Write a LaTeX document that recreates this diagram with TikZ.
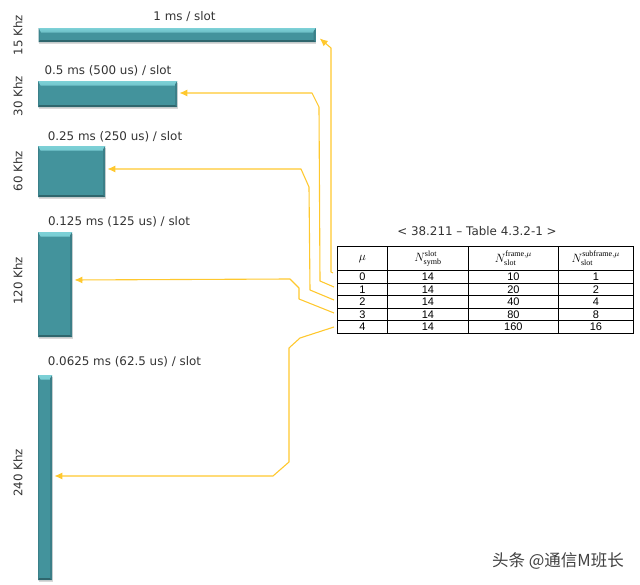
\documentclass[tikz,border=0pt]{standalone}
\usepackage{amsmath}
\usepackage{fontspec}
\setmainfont{DejaVu Sans}
\setmathrm{Liberation Serif}
\newfontfamily\cellfont{Liberation Sans}
\newfontfamily\cjkfont{Noto Sans CJK SC}
\usetikzlibrary{positioning,shadows,arrows.meta}
\definecolor{barfill}{HTML}{43939C}
\definecolor{bartop}{HTML}{7CD0D6}
\definecolor{barside}{HTML}{3B7F88}
\definecolor{barlow}{HTML}{2F666D}
\definecolor{wirecol}{HTML}{FFC82E}
\tikzset{
  slotbar/.style={rectangle,inner sep=0pt,anchor=north west,fill=barfill,
    drop shadow={shadow xshift=0.5pt,shadow yshift=-1.5pt,opacity=.3},
    path picture={
      \shade[top color=bartop,bottom color=barfill] (path picture bounding box.north west) -- (path picture bounding box.north east)
        -- ([shift={(-2.5pt,-4.5pt)}]path picture bounding box.north east)
        -- ([shift={(2.5pt,-4.5pt)}]path picture bounding box.north west) -- cycle;
      \fill[barside] (path picture bounding box.north east) -- (path picture bounding box.south east)
        -- ([shift={(-2pt,2pt)}]path picture bounding box.south east)
        -- ([shift={(-2pt,-3pt)}]path picture bounding box.north east) -- cycle;
      \fill[barside] (path picture bounding box.north west) -- (path picture bounding box.south west)
        -- ([shift={(1pt,2pt)}]path picture bounding box.south west)
        -- ([shift={(1pt,-3pt)}]path picture bounding box.north west) -- cycle;
      \fill[barlow] (path picture bounding box.south west) -- (path picture bounding box.south east)
        -- ([shift={(-2pt,2pt)}]path picture bounding box.south east)
        -- ([shift={(1pt,2pt)}]path picture bounding box.south west) -- cycle;
    }},
  slotlabel/.style={font=\fontsize{11.9}{13}\selectfont,text=black!80,inner sep=0pt},
  khzlabel/.style={font=\fontsize{11.8}{13}\selectfont,text=black!80,inner sep=0pt,rotate=90},
  cell/.style={rectangle,draw=black,line width=.8pt,inner sep=0pt,anchor=north west,
    font=\cellfont\fontsize{11}{10}\selectfont},
  headcell/.style={cell,minimum height=24.5pt,font=\fontsize{12}{12}\selectfont},
  wire/.style={-{Latex[length=8pt,width=7pt]},draw=wirecol,line width=1.1pt,shorten >=2pt,line join=round}
}
\begin{document}
\begin{tikzpicture}[x=1pt,y=-1pt]
  \useasboundingbox (0,0) rectangle (640,585);
  % slot bars
  \node[slotbar,minimum width=277pt,minimum height=14pt] (bar15) at (38.5,28) {};
  \node[slotbar,minimum width=139pt,minimum height=26pt] (bar30) at (38,81) {};
  \node[slotbar,minimum width=67pt,minimum height=51pt] (bar60) at (38,146) {};
  \node[slotbar,minimum width=34pt,minimum height=105pt] (bar120) at (38,232) {};
  \node[slotbar,minimum width=14pt,minimum height=205pt] (bar240) at (38,375) {};
  % spacing labels
  \node[khzlabel] (khz15) at (18,35) {15 Khz};
  \node[khzlabel] (khz30) at (18,96) {30 Khz};
  \node[khzlabel] (khz60) at (18,171) {60 Khz};
  \node[khzlabel] (khz120) at (18,281) {120 Khz};
  \node[khzlabel] (khz240) at (18,473) {240 Khz};
  % durations
  \node[slotlabel] (dur15) at (184.5,17) {1 ms / slot};
  \node[slotlabel] (dur30) at (108,70.5) {0.5 ms (500 us) / slot};
  \node[slotlabel] (dur60) at (115,136.5) {0.25 ms (250 us) / slot};
  \node[slotlabel] (dur120) at (119,221.5) {0.125 ms (125 us) / slot};
  \node[slotlabel] (dur240) at (124.5,361.5) {0.0625 ms (62.5 us) / slot};
  % table
  \node[slotlabel] (caption) at (477,231) {< 38.211 – Table 4.3.2-1 >};
  \node[headcell,minimum width=50pt] (hmu) at (337,246) {$\mu$};
  \node[headcell,minimum width=81pt] (hsymb) at (387,246) {$N^{\mathrm{slot}}_{\mathrm{symb}}$};
  \node[headcell,minimum width=90pt] (hframe) at (468,246) {$N^{\mathrm{frame},\mu}_{\mathrm{slot}}$};
  \node[headcell,minimum width=75pt] (hsub) at (558,246) {$N^{\mathrm{subframe},\mu}_{\mathrm{slot}}$};
  \foreach \r/\fr/\sub in {0/10/1,1/20/2,2/40/4,3/80/8,4/160/16} {
    \pgfmathsetmacro{\ytop}{270.5+12.5*\r}
    \node[cell,minimum width=50pt,minimum height=12.5pt] (mu\r) at (337,\ytop) {\r};
    \node[cell,minimum width=81pt,minimum height=12.5pt] (symb\r) at (387,\ytop) {14};
    \node[cell,minimum width=90pt,minimum height=12.5pt] (frame\r) at (468,\ytop) {\fr};
    \node[cell,minimum width=75pt,minimum height=12.5pt] (sub\r) at (558,\ytop) {\sub};
  }
  % connector starts
  \coordinate (from0) at (333,273);
  \coordinate (from1) at (334,287);
  \coordinate (from2) at (334,300);
  \coordinate (from3) at (334,313);
  \coordinate (from4) at (334,327);
  \draw[wire,shorten >=5pt] (from0) -- (331,272) -- (331,48) -- (bar15.east);
  \draw[wire] (from1) -- (320,281) -- (319,107) -- (312,93) -- (bar30.east |- 0,93);
  \draw[wire] (from2) -- (310,290) -- (309,187) -- (301,169) -- (bar60.east |- 0,169);
  \draw[wire] (from3) -- (299,299) -- (299,288) -- (290,279) -- (bar120.east |- 0,280);
  \draw[wire] (from4) -- (300,338) -- (289,348) -- (289,462) -- (273,476) -- (bar240.east |- 0,476);
  % watermark
  \node[inner sep=0pt,text=black!75,font=\cjkfont\fontsize{16.5}{18}\selectfont] (mark) at (558,561) {头条 @通信M班长};
\end{tikzpicture}
\end{document}
